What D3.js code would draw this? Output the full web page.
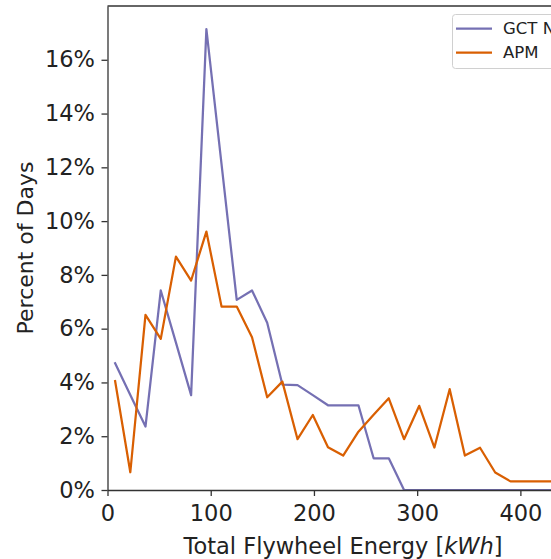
<!DOCTYPE html>
<html>
<head>
<meta charset="utf-8">
<script src="https://cdn.jsdelivr.net/npm/d3@7"></script>
<style>
  html, body { margin: 0; padding: 0; background: #fff; }
  svg { display: block; }
  text { font-family: "DejaVu Sans", sans-serif; fill: #222; }
</style>
</head>
<body>
<svg id="chart" width="551" height="559"></svg>
<script>
// Histogram bin centres (kWh), 30 bins of ~14.73 kWh
const energyBins = [7.4, 22.1, 36.8, 51.6, 66.3, 81.0, 95.8, 110.5, 125.2, 140.0,
                    154.7, 169.4, 184.1, 198.9, 213.6, 228.3, 243.1, 257.8, 272.5, 287.3,
                    302.0, 316.7, 331.5, 346.2, 360.9, 375.6, 390.4, 405.1, 419.8, 434.6];

// Share of days per bin (%)
const gctPct = [4.71, 3.53, 2.36, 7.42, 5.48, 3.53, 17.14, 12.11, 7.07, 7.42,
                6.22, 3.92, 3.90, 3.53, 3.15, 3.15, 3.15, 1.18, 1.18, 0,
                0, 0, 0, 0, 0, 0, 0, 0, 0, 0];
const apmPct = [4.05, 0.66, 6.51, 5.62, 8.68, 7.79, 9.61, 6.82, 6.82, 5.68,
                3.45, 4.03, 1.89, 2.79, 1.59, 1.28, 2.17, 2.80, 3.41, 1.89,
                3.13, 1.58, 3.75, 1.28, 1.57, 0.65, 0.32, 0.32, 0.32, 0.32];

const seriesNames = ["GCT Nominal", "APM"];
const seriesColors = ["#7570b3", "#d95f02"];

const xTicks = [0, 100, 200, 300, 400];
const yTicks = [0, 2, 4, 6, 8, 10, 12, 14, 16];

const svg = d3.select("#chart");

const plotLeft = 107.5, plotTop = 6, plotBottom = 490, plotRight = 572;
const x = d3.scaleLinear().domain([0, 450]).range([plotLeft, plotRight]);
const y = d3.scaleLinear().domain([0, 18]).range([plotBottom, plotTop]);

svg.append("defs").append("clipPath").attr("id", "plot-clip")
  .append("rect").attr("x", plotLeft).attr("y", plotTop)
  .attr("width", plotRight - plotLeft).attr("height", plotBottom - plotTop);

const line = d3.line()
  .x((d, i) => x(energyBins[i]))
  .y(d => y(d));

const series = [gctPct, apmPct];
const plot = svg.append("g").attr("clip-path", "url(#plot-clip)");
series.forEach((vals, k) => {
  plot.append("path")
    .datum(vals)
    .attr("d", line)
    .attr("fill", "none")
    .attr("stroke", seriesColors[k])
    .attr("stroke-width", 2.25)
    .attr("stroke-linejoin", "round")
    .attr("stroke-linecap", "square");
});

// Frame (top spine; right spine lies past the visible edge)
svg.append("line")
  .attr("x1", plotLeft).attr("x2", plotRight).attr("y1", plotTop).attr("y2", plotTop)
  .attr("stroke", "#333").attr("stroke-width", 1.3);
svg.append("line")
  .attr("x1", plotRight).attr("x2", plotRight).attr("y1", plotTop).attr("y2", plotBottom)
  .attr("stroke", "#333").attr("stroke-width", 1.3);

const xAxis = svg.append("g")
  .attr("transform", `translate(0,${plotBottom})`)
  .call(d3.axisBottom(x).tickValues(xTicks).tickSize(6).tickPadding(9).tickSizeOuter(0).tickFormat(d3.format("d")));
const yAxis = svg.append("g")
  .attr("transform", `translate(${plotLeft},0)`)
  .call(d3.axisLeft(y).tickValues(yTicks).tickSize(6).tickPadding(6.5).tickSizeOuter(0).tickFormat(d => d + "%"));

[xAxis, yAxis].forEach(a => {
  a.select(".domain").attr("stroke", "#333").attr("stroke-width", 1.3);
  a.selectAll(".tick line").attr("stroke", "#333").attr("stroke-width", 1.3);
  a.selectAll(".tick text")
    .style("font-family", "'DejaVu Sans', sans-serif")
    .style("font-size", "22.5px")
    .attr("fill", "#222");
});

// Axis titles
const xLabel = svg.append("text")
  .attr("x", 343).attr("y", 554)
  .attr("text-anchor", "middle")
  .style("font-size", "22.5px");
xLabel.append("tspan").text("Total Flywheel Energy [");
xLabel.append("tspan").attr("font-style", "italic").text("kWh");
xLabel.append("tspan").text("]");

svg.append("text")
  .attr("transform", "translate(33,248) rotate(-90)")
  .attr("text-anchor", "middle")
  .style("font-size", "22px")
  .text("Percent of Days");

// Legend
const legend = svg.append("g");
legend.append("rect")
  .attr("x", 452.5).attr("y", 14.5)
  .attr("width", 140).attr("height", 54)
  .attr("rx", 3)
  .attr("fill", "#fff").attr("fill-opacity", 0.8)
  .attr("stroke", "#d0d0d0").attr("stroke-width", 1);
seriesNames.forEach((name, k) => {
  const ly = 28.5 + k * 24;
  legend.append("line")
    .attr("x1", 456).attr("x2", 492).attr("y1", ly).attr("y2", ly)
    .attr("stroke", seriesColors[k]).attr("stroke-width", 2.25);
  legend.append("text")
    .attr("x", 503).attr("y", ly)
    .attr("dy", "0.36em")
    .style("font-size", "16.5px")
    .text(name);
});
</script>
</body>
</html>
